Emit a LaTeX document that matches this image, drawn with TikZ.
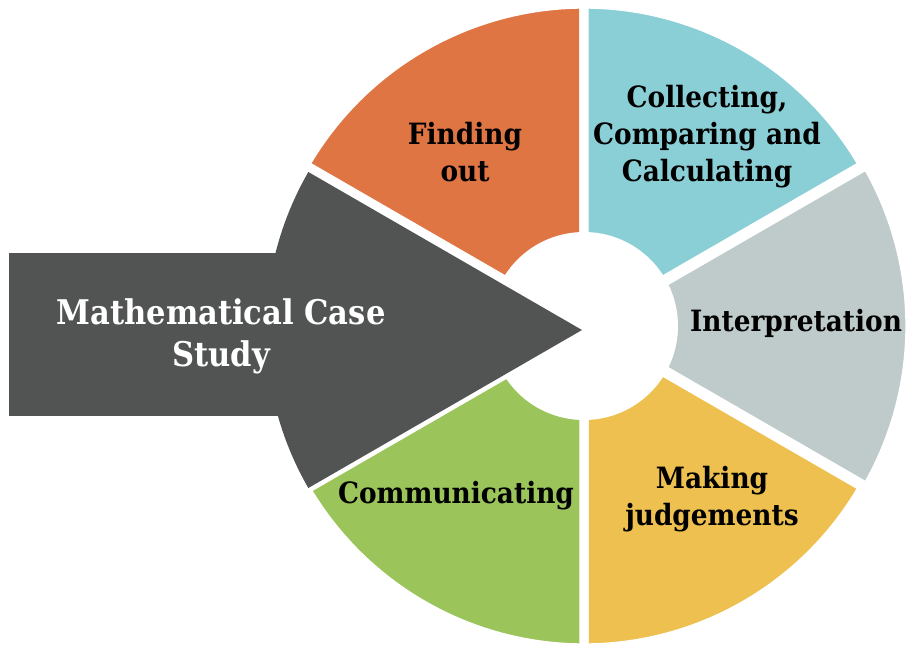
\documentclass[tikz,border=0pt]{standalone}
\usepackage{fontspec}
\setmainfont{DejaVu Serif Condensed}

\definecolor{cOrange}{RGB}{224,117,68}
\definecolor{cTeal}{RGB}{138,207,214}
\definecolor{cGrey}{RGB}{191,203,203}
\definecolor{cYellow}{RGB}{238,192,80}
\definecolor{cGreen}{RGB}{155,196,90}
\definecolor{cDark}{RGB}{82,84,83}

\tikzset{
	sector/.style={draw=white, line width=7pt, line join=miter},
	seglabel/.style={font=\bfseries\fontsize{22}{27.75}\selectfont, align=center, inner sep=0.75pt, text=black},
	caselabel/.style={font=\bfseries\fontsize{25.5}{31.5}\selectfont, align=center, inner sep=0.75pt, text=white},
}

\begin{document}
\begin{tikzpicture}[x=0.75pt,y=0.75pt,yscale=-1,xscale=1]
	\useasboundingbox (0,0) rectangle (906,644);

	\coordinate (ctr) at (584,326);
	\coordinate (ctrR) at (588,326);
	\coordinate (tip) at (582,330);

	% Sector: Finding out
	\draw [sector, fill=cOrange] (ctr) -- +(-150:322) arc [start angle=-150, end angle=-90, radius=322] -- cycle ;
	% Sector: Collecting
	\draw [sector, fill=cTeal] (ctr) -- +(-90:322) arc [start angle=-90, end angle=-30, radius=322] -- cycle ;
	% Sector: Interpretation
	\draw [sector, fill=cGrey] (ctrR) -- +(-30:322) arc [start angle=-30, end angle=30, radius=322] -- cycle ;
	% Sector: Making judgements
	\draw [sector, fill=cYellow] (ctr) -- +(30:322) arc [start angle=30, end angle=90, radius=322] -- cycle ;
	% Sector: Communicating
	\draw [sector, fill=cGreen] (ctr) -- +(90:322) arc [start angle=90, end angle=150, radius=322] -- cycle ;

	% Hole
	\fill [white] (ctr) circle [radius=94] ;

	% Arrow: white rim, then body
	\draw [white, line width=7pt] (tip) -- +(150:316) arc [start angle=150, end angle=210, radius=316] -- cycle ;
	\draw [white, line width=7pt] (9,253) rectangle (300,416) ;
	\fill [cDark] (tip) -- +(150:316) arc [start angle=150, end angle=210, radius=316] -- cycle ;
	\fill [cDark] (9,253) rectangle (300,416) ;

	% Text Node
	\node [seglabel] (finding) at (465,152) {Finding\\out};
	% Text Node
	\node [seglabel] (collecting) at (707,137) {Collecting,\\Comparing and\\Calculating};
	% Text Node
	\node [seglabel] (interp) at (796,323) {Interpretation};
	% Text Node
	\node [seglabel] (judging) at (712,499) {Making\\judgements};
	% Text Node
	\node [seglabel] (communic) at (456,496) {Communicating};
	% Text Node
	\node [caselabel] (casestudy) at (221,336) {Mathematical Case\\Study};

\end{tikzpicture}
\end{document}
